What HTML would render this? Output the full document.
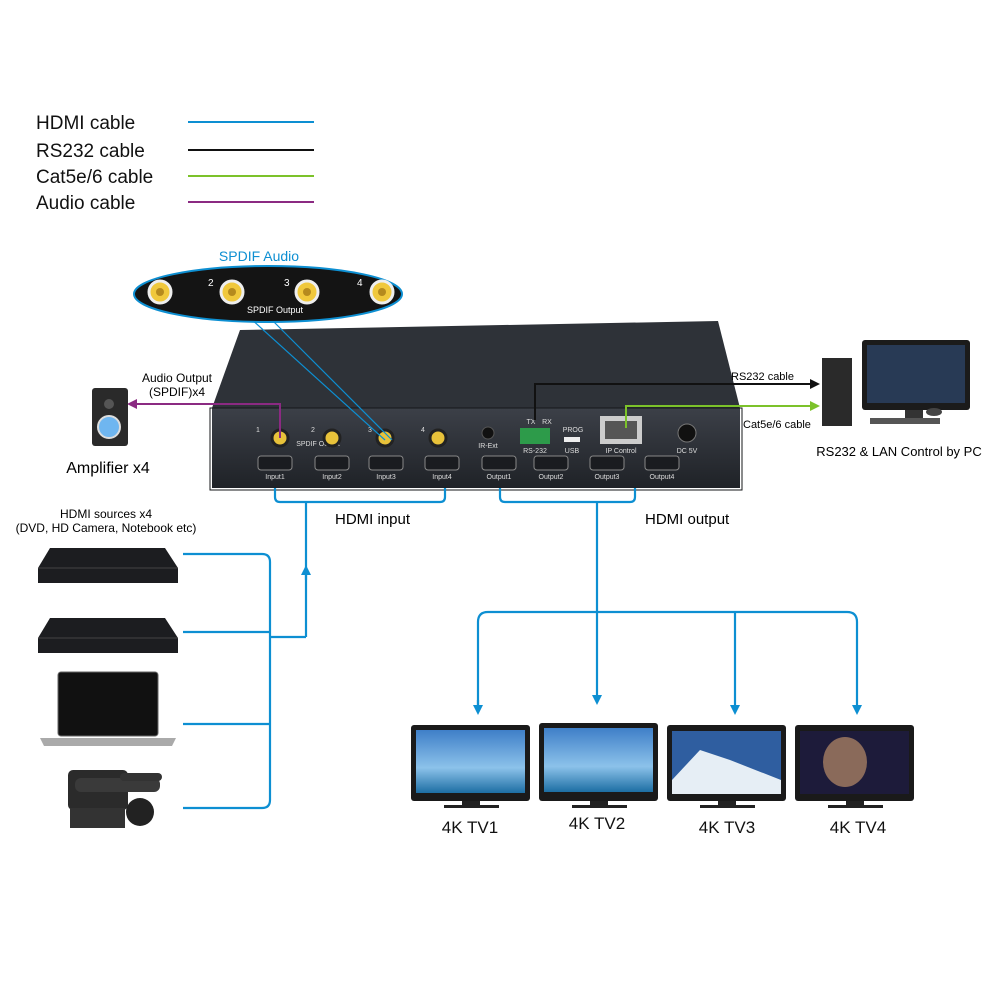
<!DOCTYPE html>
<html><head><meta charset="utf-8"><style>
html,body{margin:0;padding:0;background:#fff}
svg{display:block;font-family:"Liberation Sans",Arial,sans-serif}
</style></head><body>
<svg width="1000" height="1000" viewBox="0 0 1000 1000" xmlns="http://www.w3.org/2000/svg">
<defs>
<marker id="ab" markerWidth="10" markerHeight="10" refX="5" refY="5" orient="auto" markerUnits="userSpaceOnUse"><path d="M0,0 L10,5 L0,10 z" fill="#0d8fd2"/></marker>
<marker id="ak" markerWidth="10" markerHeight="10" refX="5" refY="5" orient="auto" markerUnits="userSpaceOnUse"><path d="M0,0 L10,5 L0,10 z" fill="#111"/></marker>
<marker id="ag" markerWidth="10" markerHeight="10" refX="5" refY="5" orient="auto" markerUnits="userSpaceOnUse"><path d="M0,0 L10,5 L0,10 z" fill="#7cc22a"/></marker>
<marker id="ap" markerWidth="10" markerHeight="10" refX="5" refY="5" orient="auto" markerUnits="userSpaceOnUse"><path d="M0,0 L10,5 L0,10 z" fill="#8b2a82"/></marker>
<linearGradient id="sky" x1="0" y1="0" x2="0" y2="1"><stop offset="0" stop-color="#3f7fc8"/><stop offset="0.6" stop-color="#8cc2ea"/><stop offset="1" stop-color="#1d6ea3"/></linearGradient>
<linearGradient id="box" x1="0" y1="0" x2="0" y2="1"><stop offset="0" stop-color="#3c4048"/><stop offset="1" stop-color="#1f2227"/></linearGradient>
</defs>

<g font-size="19" fill="#111">
<text x="36" y="129">HDMI cable</text>
<text x="36" y="157">RS232 cable</text>
<text x="36" y="183">Cat5e/6 cable</text>
<text x="36" y="209">Audio cable</text>
</g>
<line x1="188" y1="122" x2="314" y2="122" stroke="#0d8fd2" stroke-width="2"/>
<line x1="188" y1="150" x2="314" y2="150" stroke="#111" stroke-width="2"/>
<line x1="188" y1="176" x2="314" y2="176" stroke="#7cc22a" stroke-width="2"/>
<line x1="188" y1="202" x2="314" y2="202" stroke="#8b2a82" stroke-width="2"/>

<polygon points="240,330 718,321 740,408 212,408" fill="#2e3238"/>
<polygon points="212,408 740,408 740,488 212,488" fill="url(#box)"/>
<rect x="210" y="408" width="532" height="82" fill="none" stroke="#15171a"/>
<g fill="#1a1c20" stroke="#888" stroke-width="1">
<rect x="258" y="456" width="34" height="14" rx="3"/><rect x="315" y="456" width="34" height="14" rx="3"/>
<rect x="369" y="456" width="34" height="14" rx="3"/><rect x="425" y="456" width="34" height="14" rx="3"/>
<rect x="482" y="456" width="34" height="14" rx="3"/><rect x="534" y="456" width="34" height="14" rx="3"/>
<rect x="590" y="456" width="34" height="14" rx="3"/><rect x="645" y="456" width="34" height="14" rx="3"/>
</g>
<g font-size="7" fill="#ddd" text-anchor="middle">
<text x="275" y="479">Input1</text><text x="332" y="479">Input2</text><text x="386" y="479">Input3</text><text x="442" y="479">Input4</text>
<text x="499" y="479">Output1</text><text x="551" y="479">Output2</text><text x="607" y="479">Output3</text><text x="662" y="479">Output4</text>
<text x="488" y="448">IR-Ext</text><text x="535" y="453">RS-232</text><text x="572" y="453">USB</text><text x="621" y="453">IP Control</text><text x="687" y="453">DC 5V</text>
<text x="573" y="432">PROG</text><text x="531" y="424">TX</text><text x="547" y="424">RX</text>
<text x="318" y="446">SPDIF Output</text>
<text x="258" y="432">1</text><text x="313" y="432">2</text><text x="370" y="432">3</text><text x="423" y="432">4</text>
</g>
<g fill="#e8c23a" stroke="#222" stroke-width="3">
<circle cx="280" cy="438" r="8"/><circle cx="332" cy="438" r="8"/><circle cx="385" cy="438" r="8"/><circle cx="438" cy="438" r="8"/>
</g>
<circle cx="488" cy="433" r="6" fill="#111" stroke="#555"/>
<rect x="520" y="428" width="30" height="16" fill="#2d9b4a"/>
<rect x="564" y="437" width="16" height="5" fill="#eee"/>
<rect x="600" y="416" width="42" height="28" fill="#ccc"/><rect x="605" y="421" width="32" height="18" fill="#555"/>
<circle cx="687" cy="433" r="9" fill="#111" stroke="#777"/>

<line x1="250" y1="318" x2="385" y2="440" stroke="#0d8fd2" stroke-width="1.2"/>
<line x1="270" y1="318" x2="392" y2="440" stroke="#0d8fd2" stroke-width="1.2"/>
<text x="259" y="261" font-size="14" fill="#0d8fd2" text-anchor="middle">SPDIF Audio</text>
<ellipse cx="268" cy="294" rx="134" ry="28" fill="#141414" stroke="#0d8fd2" stroke-width="2"/>
<g fill="#f0c83c" stroke="#eee" stroke-width="3">
<circle cx="160" cy="292" r="11"/><circle cx="232" cy="292" r="11"/><circle cx="307" cy="292" r="11"/><circle cx="382" cy="292" r="11"/>
</g>
<g><circle cx="160" cy="292" r="4" fill="#b58a1e"/><circle cx="232" cy="292" r="4" fill="#b58a1e"/><circle cx="307" cy="292" r="4" fill="#b58a1e"/><circle cx="382" cy="292" r="4" fill="#b58a1e"/></g>
<g font-size="10" fill="#fff"><text x="208" y="286">2</text><text x="284" y="286">3</text><text x="357" y="286">4</text><text x="247" y="313" font-size="9">SPDIF Output</text></g>

<polyline points="280,438 280,404 132,404" fill="none" stroke="#8b2a82" stroke-width="2" marker-end="url(#ap)"/>
<text x="177" y="382" font-size="12" text-anchor="middle">Audio Output</text>
<text x="177" y="396" font-size="12" text-anchor="middle">(SPDIF)x4</text>
<rect x="92" y="388" width="36" height="58" rx="3" fill="#2a2a2a"/>
<circle cx="109" cy="427" r="11" fill="#6fb6f0" stroke="#ddd" stroke-width="2"/>
<circle cx="109" cy="404" r="5" fill="#555"/>
<text x="108" y="473" font-size="16" text-anchor="middle">Amplifier x4</text>

<polyline points="535,420 535,384 815,384" fill="none" stroke="#111" stroke-width="2" marker-end="url(#ak)"/>
<polyline points="626,428 626,406 815,406" fill="none" stroke="#7cc22a" stroke-width="2" marker-end="url(#ag)"/>
<text x="731" y="380" font-size="11">RS232 cable</text>
<text x="743" y="428" font-size="11">Cat5e/6 cable</text>
<rect x="822" y="358" width="30" height="68" fill="#2a2a2a"/>
<rect x="862" y="340" width="108" height="70" rx="3" fill="#1b1b1b"/>
<rect x="867" y="345" width="98" height="58" fill="#283a55"/>
<rect x="905" y="410" width="18" height="8" fill="#333"/>
<rect x="870" y="418" width="70" height="6" fill="#555"/>
<ellipse cx="934" cy="412" rx="8" ry="4" fill="#444"/>
<text x="899" y="456" font-size="13" text-anchor="middle">RS232 &amp; LAN Control by PC</text>

<g fill="none" stroke="#0d8fd2" stroke-width="2.2">
<path d="M275,488 V497 Q275,502 280,502 H440 Q445,502 445,497 V488"/>
<line x1="306" y1="502" x2="306" y2="637"/>
<path d="M183,554 H262 Q270,554 270,562 V800 Q270,808 262,808 H183"/>
<line x1="183" y1="632" x2="270" y2="632"/>
<line x1="183" y1="724" x2="270" y2="724"/>
<line x1="270" y1="637" x2="306" y2="637"/>
<line x1="306" y1="580" x2="306" y2="570" marker-end="url(#ab)"/>
<path d="M500,488 V497 Q500,502 505,502 H630 Q635,502 635,497 V488"/>
<line x1="597" y1="502" x2="597" y2="700" marker-end="url(#ab)"/>
<path d="M478,710 V622 Q478,612 488,612 H847 Q857,612 857,622 V710" marker-end="url(#ab)"/>
<line x1="478" y1="700" x2="478" y2="710" marker-end="url(#ab)"/>
<line x1="735" y1="612" x2="735" y2="710" marker-end="url(#ab)"/>
</g>
<text x="335" y="524" font-size="15">HDMI input</text>
<text x="645" y="524" font-size="15">HDMI output</text>

<text x="106" y="518" font-size="12" text-anchor="middle">HDMI sources x4</text>
<text x="106" y="532" font-size="12" text-anchor="middle">(DVD, HD Camera, Notebook etc)</text>
<polygon points="50,548 165,548 178,568 178,583 38,583 38,568" fill="#1c1d20"/>
<line x1="38" y1="568" x2="178" y2="568" stroke="#444"/>
<polygon points="50,618 165,618 178,638 178,653 38,653 38,638" fill="#1c1d20"/>
<line x1="38" y1="638" x2="178" y2="638" stroke="#444"/>
<rect x="58" y="672" width="100" height="64" rx="3" fill="#111" stroke="#666"/>
<polygon points="40,738 176,738 172,746 44,746" fill="#aaa"/>
<rect x="68" y="770" width="60" height="40" rx="5" fill="#2b2b2b"/>
<rect x="75" y="778" width="85" height="14" rx="6" fill="#3a3a3a"/>
<rect x="120" y="773" width="42" height="8" rx="4" fill="#333"/>
<circle cx="140" cy="812" r="14" fill="#222"/>
<rect x="70" y="808" width="55" height="20" fill="#333"/>

<g>
<rect x="411" y="725" width="119" height="76" rx="3" fill="#1a1a1a"/><rect x="416" y="730" width="109" height="63" fill="url(#sky)"/>
<rect x="462" y="801" width="18" height="4" fill="#222"/><rect x="444" y="805" width="55" height="3" fill="#222"/>
<rect x="539" y="723" width="119" height="78" rx="3" fill="#1a1a1a"/><rect x="544" y="728" width="109" height="64" fill="url(#sky)"/>
<rect x="590" y="801" width="18" height="4" fill="#222"/><rect x="572" y="805" width="55" height="3" fill="#222"/>
<rect x="667" y="725" width="119" height="76" rx="3" fill="#1a1a1a"/><rect x="672" y="731" width="109" height="63" fill="#2f5ea0"/>
<polygon points="672,780 700,750 730,760 781,780 781,794 672,794" fill="#e6eef5"/>
<rect x="718" y="801" width="18" height="4" fill="#222"/><rect x="700" y="805" width="55" height="3" fill="#222"/>
<rect x="795" y="725" width="119" height="76" rx="3" fill="#1a1a1a"/><rect x="800" y="731" width="109" height="63" fill="#1d1b3a"/>
<ellipse cx="845" cy="762" rx="22" ry="25" fill="#8a6a5a"/>
<rect x="846" y="801" width="18" height="4" fill="#222"/><rect x="828" y="805" width="55" height="3" fill="#222"/>
</g>
<g font-size="17" fill="#111" text-anchor="middle">
<text x="470" y="833">4K TV1</text><text x="597" y="829">4K TV2</text><text x="727" y="833">4K TV3</text><text x="858" y="833">4K TV4</text>
</g>
</svg>
</body></html>
